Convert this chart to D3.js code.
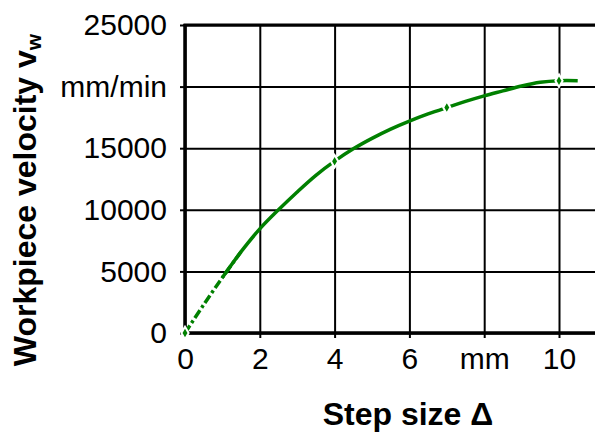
<!DOCTYPE html>
<head>
  <meta charset="utf-8">
  <script src="https://d3js.org/d3.v7.min.js"></script>
  <style>
    body { margin: 0; background: #fff; }
    text { font-family: Arial, "Liberation Sans", sans-serif; fill: #000; }
    .tick text { font-size: 30px; }
    .grid line { stroke: #000; stroke-width: 2; }
    .grid path { display: none; }
    .axis path { display: none; }
    .axis line { stroke: #000; stroke-width: 2; }
    .title { font-size: 32px; font-weight: bold; }
  </style>
</head>
<body>
<script>
  // step size (mm) and workpiece velocity (mm/min)
  var steps = [0, 0.5, 1, 1.5, 2, 2.5, 3, 3.5, 4, 4.5, 5, 5.5, 6, 6.5, 7, 7.5, 8, 8.5, 9, 9.5, 10, 10.5];
  var velocity = [0, 2300, 4500, 6600, 8450, 10000, 11450, 12800, 13950, 14950, 15800, 16550, 17200, 17780, 18300, 18800, 19250, 19650, 20050, 20350, 20480, 20480];
  var markerSteps = [0, 4, 7, 10];

  var xTicks = [0, 2, 4, 6, 8, 10];
  var xTickLabels = ["0", "2", "4", "6", "mm", "10"];
  var yTicks = [0, 5000, 10000, 15000, 20000, 25000];
  var yTickLabels = ["0", "5000", "10000", "15000", "mm/min", "25000"];

  var W = 595, H = 433;
  var svg = d3.select("body").append("svg")
      .attr("width", W)
      .attr("height", H);

  var x = d3.scaleLinear().domain([0, 11]).range([185, 596.4]);
  var y = d3.scaleLinear().domain([0, 25000]).range([333, 25]);

  // grid
  svg.append("g")
      .attr("class", "grid")
      .attr("transform", "translate(0,25)")
      .call(d3.axisBottom(x).tickValues(xTicks).tickSize(308).tickFormat(""));
  svg.append("g")
      .attr("class", "grid")
      .attr("transform", "translate(185,0)")
      .call(d3.axisRight(y).tickValues(yTicks).tickSize(412).tickFormat(""));

  // axes with short outer ticks
  svg.append("g")
      .attr("class", "axis")
      .attr("transform", "translate(0,333)")
      .call(d3.axisBottom(x).tickValues(xTicks).tickSize(5).tickPadding(10)
        .tickFormat(function(d, i) { return xTickLabels[i]; }))
      .selectAll(".tick text").attr("dy", "0.71em");
  svg.append("g")
      .attr("class", "axis")
      .attr("transform", "translate(185,0)")
      .call(d3.axisLeft(y).tickValues(yTicks).tickSize(5).tickPadding(13)
        .tickFormat(function(d, i) { return yTickLabels[i]; }));

  // heavier frame lines
  svg.append("line")
      .attr("x1", x(0)).attr("x2", x(0)).attr("y1", y(25000) - 1).attr("y2", y(0) + 1.5)
      .attr("stroke", "#000").attr("stroke-width", 3.5);
  svg.append("line")
      .attr("x1", x(0) - 1.5).attr("x2", W).attr("y1", y(0)).attr("y2", y(0))
      .attr("stroke", "#000").attr("stroke-width", 3.5);
  svg.append("line")
      .attr("x1", x(0) - 1.5).attr("x2", W).attr("y1", y(25000)).attr("y2", y(25000))
      .attr("stroke", "#000").attr("stroke-width", 3);

  var data = steps.map(function(s, i) { return { s: s, v: velocity[i] }; });

  var line = d3.line()
      .x(function(d) { return x(d.s); })
      .y(function(d) { return y(d.v); })
      .curve(d3.curveCatmullRom);

  // dash-dot start, then solid
  svg.append("path")
      .datum(data.filter(function(d) { return d.s <= 1.5; }))
      .attr("d", line)
      .attr("fill", "none")
      .attr("stroke", "#008000")
      .attr("stroke-width", 3.5)
      .attr("stroke-dasharray", "9,3,3,3");
  svg.append("path")
      .datum(data.filter(function(d) { return d.s >= 1; }))
      .attr("d", line)
      .attr("fill", "none")
      .attr("stroke", "#008000")
      .attr("stroke-width", 3.5);

  svg.selectAll(".mk")
      .data(markerSteps)
      .enter().append("path")
      .attr("class", "mk")
      .attr("transform", function(s) {
        var i = steps.indexOf(s);
        return "translate(" + x(s) + "," + y(velocity[i]) + ")";
      })
      .attr("d", d3.symbol().type(d3.symbolDiamond).size(45))
      .attr("fill", "#008000")
      .attr("stroke", "#fff")
      .attr("stroke-width", 2);

  // titles
  svg.append("text")
      .attr("class", "title")
      .attr("text-anchor", "middle")
      .attr("x", 408).attr("y", 425)
      .text("Step size \u0394");

  var yt = svg.append("text")
      .attr("class", "title")
      .attr("text-anchor", "middle")
      .attr("transform", "translate(36,200) rotate(-90)");
  yt.append("tspan").text("Workpiece velocity v");
  yt.append("tspan").attr("font-size", "21px").attr("dy", "0.25em").text("w");
</script>
</body>
